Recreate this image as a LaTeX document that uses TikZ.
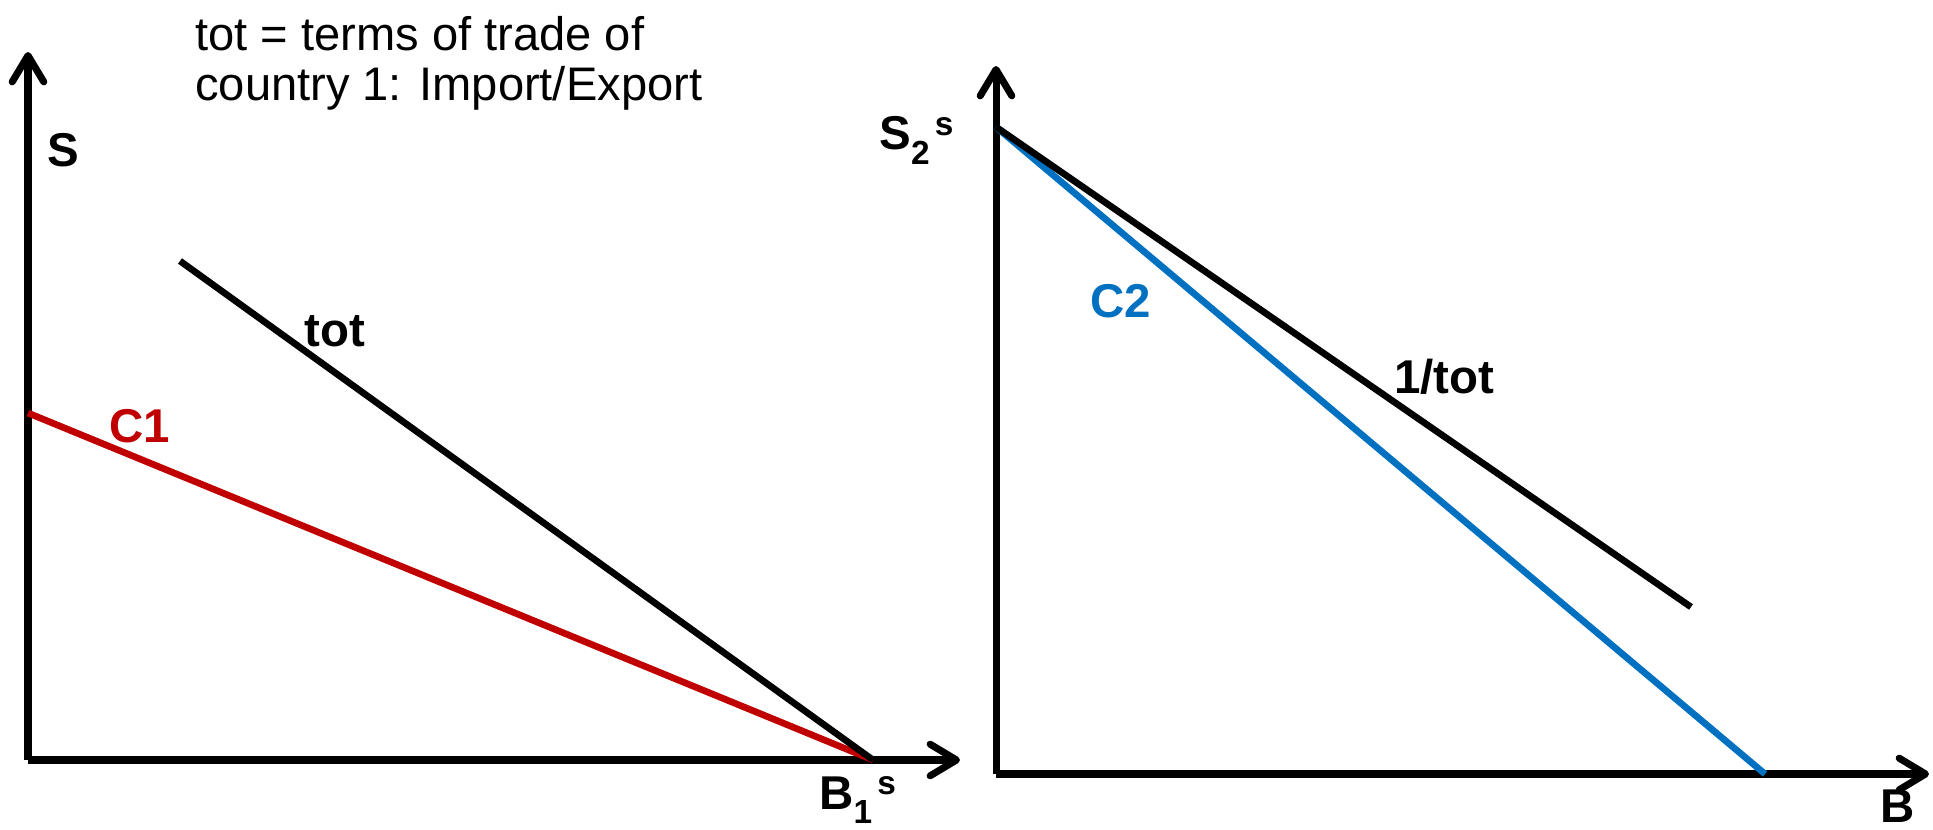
\documentclass[tikz,border=0pt]{standalone}
\usepackage{fontspec}
\setmainfont{Liberation Sans}
\usetikzlibrary{arrows.meta}

\definecolor{cred}{HTML}{C00000}
\definecolor{cblue}{HTML}{0070C0}

% label with lowered index and raised s
\newcommand{\idxlabel}[3]{#1\raisebox{-8pt}{\fontsize{19}{19}\selectfont #2}\hspace{3pt}\raisebox{8pt}{\fontsize{19}{19}\selectfont #3}}

\begin{document}
\begin{tikzpicture}[
    x=0.02cm, y=-0.02cm,
    axis/.style={line width=4pt, -{Straight Barb[length=15pt, width=18pt, round]}},
    curve/.style={line width=3.8pt},
    lbl/.style={font=\fontsize{27}{28}\selectfont\bfseries, inner sep=0pt, anchor=base west}
]
\useasboundingbox (0,0) rectangle (1933,830);

% Note
\node[anchor=north west, align=left, inner sep=0pt, font=\fontsize{26.8}{28.4}\selectfont] (note) at (195,16) {tot = terms of trade of\\country 1: Import/Export};

% Left panel
\coordinate (o1) at (28,760);
\coordinate (y1) at (28,52);
\coordinate (x1) at (960,760);
\coordinate (c1a) at (28,413);
\coordinate (tota) at (180,261);
\coordinate (b1) at (873,760);

\draw[axis] (o1) -- (y1);
\draw[axis] (o1) -- (x1);
\draw[curve, cred] (c1a) -- (b1);
\draw[curve] (tota) -- (b1);

\node[lbl] (s) at (47,167) {S};
\node[lbl] (tot) at (304,347) {tot};
\node[lbl, cred] (c1) at (109,443) {C1};
\node[lbl] (b1s) at (819,809) {\idxlabel{B}{1}{s}};

% Right panel
\coordinate (o2) at (996,774);
\coordinate (y2) at (996,66);
\coordinate (x2) at (1929,774);
\coordinate (s2) at (996,127);
\coordinate (inva) at (1691,607);
\coordinate (c2b) at (1765,774);

\draw[axis] (o2) -- (y2);
\draw[axis] (o2) -- (x2);
\draw[curve, cblue] (s2) -- (c2b);
\draw[curve] (s2) -- (inva);

\node[lbl] (s2s) at (879,150) {\idxlabel{S}{2}{s}};
\node[lbl] (invtot) at (1394,394) {1/tot};
\node[lbl, cblue] (c2) at (1090,318) {C2};
\node[lbl] (b) at (1880,822) {B};

\end{tikzpicture}
\end{document}
